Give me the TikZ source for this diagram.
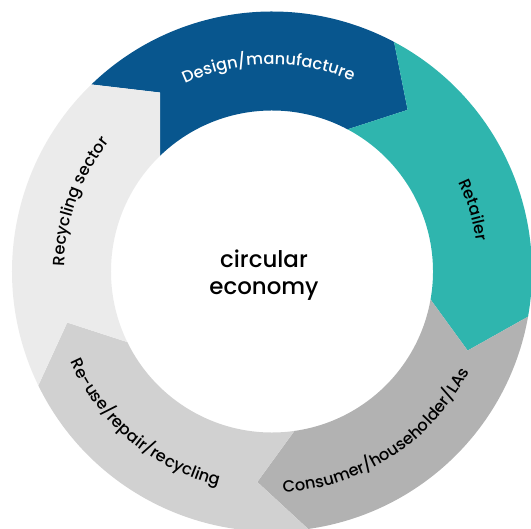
\documentclass[tikz,border=0pt]{standalone}
\usepackage{fontspec}
\setmainfont{Poppins}
\newfontfamily\mediumfont{Poppins Medium}
\usetikzlibrary{decorations.text}

\definecolor{designblue}{HTML}{08568E}
\definecolor{retailteal}{HTML}{2FB5AE}
\definecolor{consumergrey}{HTML}{B2B2B2}
\definecolor{reusegrey}{HTML}{D1D1D1}
\definecolor{recyclegrey}{HTML}{EBEBEB}

% ring radii (bp)
\newcommand{\ringout}{260}
\newcommand{\ringin}{161}
\newcommand{\ringmid}{211}
\newcommand{\labelfont}{\mediumfont\fontsize{16.3}{20}\selectfont}

\begin{document}
\begin{tikzpicture}[x=1bp, y=1bp,
  outlabel/.style={decorate, decoration={text along path, text align=center,
    text={|\labelfont|#1}}},
  outlabelw/.style={decorate, decoration={text along path, text align=center,
    text color=white, text={|\labelfont|#1}}}]
  \useasboundingbox (-272,-257.5) rectangle (259,271.5);

  % Design/manufacture
  \fill[designblue] (134:\ringout) arc[start angle=134, end angle=62, radius=\ringout]
    -- (50:\ringmid) -- (62:\ringin) arc[start angle=62, end angle=134, radius=\ringin]
    -- (122:\ringmid) -- cycle;
  % Retailer
  \fill[retailteal] (62:\ringout) arc[start angle=62, end angle=-10, radius=\ringout]
    -- (-22:\ringmid) -- (-10:\ringin) arc[start angle=-10, end angle=62, radius=\ringin]
    -- (50:\ringmid) -- cycle;
  % Consumer
  \fill[consumergrey] (-10:\ringout) arc[start angle=-10, end angle=-82, radius=\ringout]
    -- (-94:\ringmid) -- (-82:\ringin) arc[start angle=-82, end angle=-10, radius=\ringin]
    -- (-22:\ringmid) -- cycle;
  % Re-use
  \fill[reusegrey] (-82:\ringout) arc[start angle=-82, end angle=-154, radius=\ringout]
    -- (-166:\ringmid) -- (-154:\ringin) arc[start angle=-154, end angle=-82, radius=\ringin]
    -- (-94:\ringmid) -- cycle;
  % Recycling sector
  \fill[recyclegrey] (206:\ringout) arc[start angle=206, end angle=134, radius=\ringout]
    -- (122:\ringmid) -- (134:\ringin) arc[start angle=134, end angle=206, radius=\ringin]
    -- (194:\ringmid) -- cycle;

  % labels round the ring
  \path[outlabelw={Design/manufacture}] (141:207) arc[start angle=141, end angle=41, radius=207];
  \path[outlabel={Retailer}] (57:207) arc[start angle=57, end angle=-23, radius=207];
  \path[outlabel={Consumer/householder/LAs}] (-107:221) arc[start angle=-107, end angle=-7, radius=221];
  \path[outlabel={Re-use/repair/recycling}] (180:221) arc[start angle=180, end angle=280, radius=221];
  \path[outlabel={Recycling sector}] (210:208) arc[start angle=210, end angle=110, radius=208];

  % centre
  \node[font=\mediumfont\fontsize{23}{27}\selectfont, align=center] (centre) at (-8,-4) {circular\\economy};
\end{tikzpicture}
\end{document}
